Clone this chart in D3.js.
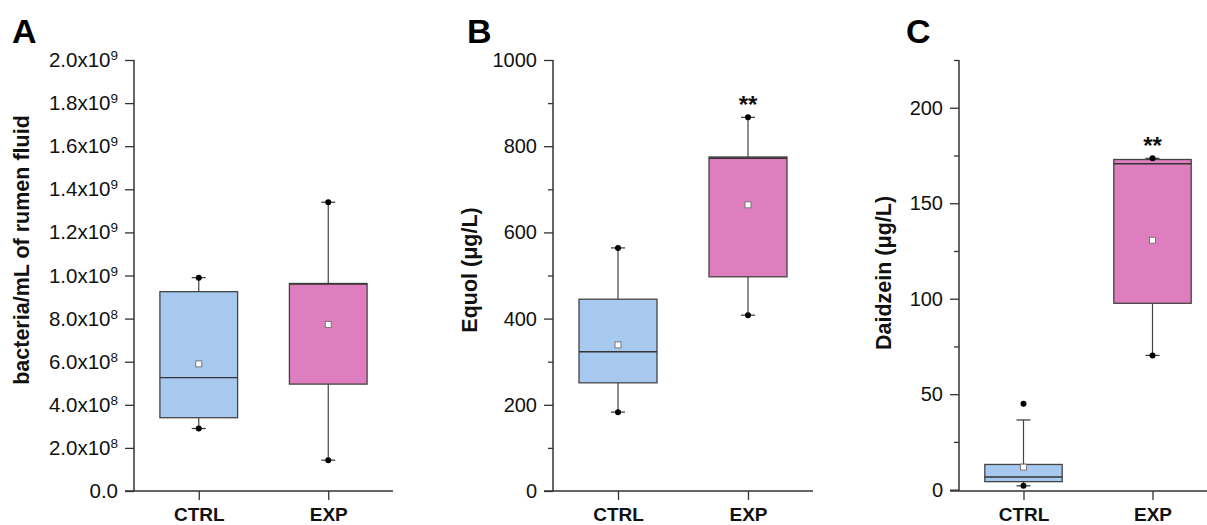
<!DOCTYPE html>
<html>
<head>
<meta charset="utf-8">
<script src="https://cdn.jsdelivr.net/npm/d3@7"></script>
<style>
  html, body { margin: 0; padding: 0; background: #fff; }
  svg { display: block; }
  text { font-family: "Liberation Sans", Arial, sans-serif; }
</style>
</head>
<body>
<svg id="chart" width="1207" height="525"></svg>
<script>
// ---------- DATA ----------
const categories = ["CTRL", "EXP"];
const panelLetters = ["A", "B", "C"];
const yTitles = ["bacteria/mL of rumen fluid", "Equol (\u03bcg/L)", "Daidzein (\u03bcg/L)"];
const sigLabels = ["", "**"];

// box statistics per group: whisker low/high, quartiles, median, mean, outliers
const bacteriaBoxes = [
  { low: 2.9e8,  q1: 3.4e8,  median: 5.26e8, mean: 5.9e8,  q3: 9.25e8, high: 9.9e8,  dotLow: 2.9e8,  dotHigh: 9.9e8,  outliers: [] },
  { low: 1.43e8, q1: 4.96e8, median: 9.6e8,  mean: 7.73e8, q3: 9.63e8, high: 1.34e9, dotLow: 1.43e8, dotHigh: 1.34e9, outliers: [] }
];
const equolBoxes = [
  { low: 183, q1: 251, median: 323, mean: 339, q3: 445, high: 564, dotLow: 183, dotHigh: 564, outliers: [] },
  { low: 408, q1: 497, median: 772, mean: 664, q3: 775, high: 867, dotLow: 408, dotHigh: 867, outliers: [] }
];
const daidzeinBoxes = [
  { low: 2,    q1: 4.2,  median: 6.6,   mean: 11.8,  q3: 13.2,  high: 36.5,  dotLow: 2,    dotHigh: null,  outliers: [45] },
  { low: 70.3, q1: 97.6, median: 170.7, mean: 130.6, q3: 172.9, high: 173.5, dotLow: 70.3, dotHigh: 173.5, outliers: [] }
];

const bacteriaTicks = [0, 2e8, 4e8, 6e8, 8e8, 1e9, 1.2e9, 1.4e9, 1.6e9, 1.8e9, 2e9];
const equolTicks = [0, 200, 400, 600, 800, 1000];
const equolMinor = [100, 300, 500, 700, 900];
const daidzeinTicks = [0, 50, 100, 150, 200];
const daidzeinMinor = [25, 75, 125, 175, 225];

// ---------- LAYOUT ----------
const svg = d3.select("#chart");
const colors = ["#A7C9EF", "#DF7EBE"];
const axisColor = "#333";

const panels = [
  { boxes: bacteriaBoxes, domain: [0, 2e9], ticks: bacteriaTicks, minor: [], axisX: 134, rightX: 393,
    letterX: 12, titleX: 22, titleY: 250, sci: true },
  { boxes: equolBoxes, domain: [0, 1000], ticks: equolTicks, minor: equolMinor, axisX: 553, rightX: 813,
    letterX: 467, titleX: 470, titleY: 270, sci: false },
  { boxes: daidzeinBoxes, domain: [-0.7, 225], ticks: daidzeinTicks, minor: daidzeinMinor, axisX: 959, rightX: 1217,
    letterX: 906, titleX: 884, titleY: 273, sci: false }
];
const topY = 60, bottomY = 491;

panels.forEach((p, pi) => {
  const g = svg.append("g");
  const y = d3.scaleLinear().domain(p.domain).range([bottomY, topY]);
  const x = d3.scalePoint().domain(categories).range([p.axisX, p.rightX]).padding(0.5);
  const boxW = (p.rightX - p.axisX) * 0.3;

  // minor ticks
  if (p.minor.length) {
    const minorAxis = d3.axisLeft(y).tickValues(p.minor).tickSize(5).tickSizeOuter(0).tickFormat("");
    const mg = g.append("g").attr("transform", `translate(${p.axisX},0)`).call(minorAxis);
    mg.select(".domain").remove();
    mg.selectAll("line").attr("stroke", axisColor).attr("stroke-width", 1.3);
  }

  // major y axis
  const yAxis = d3.axisLeft(y).tickValues(p.ticks).tickSize(9).tickSizeOuter(0).tickPadding(7)
    .tickFormat(d => p.sci ? "" : d3.format("d")(d));
  const yg = g.append("g").attr("transform", `translate(${p.axisX},0)`).call(yAxis);
  yg.select(".domain").attr("stroke", axisColor).attr("stroke-width", 1.5)
    .attr("d", `M0,${topY}V${bottomY}`);
  yg.selectAll("line").attr("stroke", axisColor).attr("stroke-width", 1.3);
  yg.selectAll("text").attr("font-size", p.sci ? 20.5 : 20).attr("fill", "#111")
    .attr("font-family", "'Liberation Sans', Arial, sans-serif");
  if (p.sci) {
    yg.selectAll("text").each(function(d) {
      const t = d3.select(this);
      t.text(null);
      if (d === 0) { t.text("0.0"); return; }
      const exp = Math.floor(Math.log10(d));
      const mant = d / Math.pow(10, exp);
      t.append("tspan").text(mant.toFixed(1) + "x10");
      t.append("tspan").text(exp).attr("font-size", 13.5).attr("dy", -7);
    });
  }

  // x axis
  const xAxis = d3.axisBottom(x).tickSize(9).tickSizeOuter(0).tickPadding(8);
  const xg = g.append("g").attr("transform", `translate(0,${bottomY})`).call(xAxis);
  xg.select(".domain").attr("stroke", axisColor).attr("stroke-width", 1.5)
    .attr("d", `M${p.axisX - 9},0H${p.rightX}`);
  xg.selectAll("line").attr("stroke", axisColor).attr("stroke-width", 1.3);
  xg.selectAll("text").attr("font-size", 19).attr("font-weight", "bold").attr("fill", "#111")
    .attr("font-family", "'Liberation Sans', Arial, sans-serif");

  // boxes
  p.boxes.forEach((b, i) => {
    const cx = x(categories[i]);
    const bg = g.append("g");
    // whiskers
    bg.append("line").attr("x1", cx).attr("x2", cx).attr("y1", y(b.q3)).attr("y2", y(b.high))
      .attr("stroke", "#444").attr("stroke-width", 1.2);
    bg.append("line").attr("x1", cx).attr("x2", cx).attr("y1", y(b.q1)).attr("y2", y(b.low))
      .attr("stroke", "#444").attr("stroke-width", 1.2);
    [b.high, b.low].forEach(v => {
      bg.append("line").attr("x1", cx - 7).attr("x2", cx + 7).attr("y1", y(v)).attr("y2", y(v))
        .attr("stroke", "#333").attr("stroke-width", 1.2);
    });
    // box
    bg.append("rect").attr("x", cx - boxW / 2).attr("width", boxW)
      .attr("y", y(b.q3)).attr("height", y(b.q1) - y(b.q3))
      .attr("fill", colors[i]).attr("stroke", "#444").attr("stroke-width", 1.3);
    // median
    bg.append("line").attr("x1", cx - boxW / 2).attr("x2", cx + boxW / 2)
      .attr("y1", y(b.median)).attr("y2", y(b.median))
      .attr("stroke", "#333").attr("stroke-width", 1.4);
    // min/max dots
    [b.dotLow, b.dotHigh].concat(b.outliers).filter(v => v !== null).forEach(v => {
      bg.append("circle").attr("cx", cx).attr("cy", y(v)).attr("r", 3).attr("fill", "#000");
    });
    // mean
    bg.append("rect").attr("x", cx - 3).attr("y", y(b.mean) - 3).attr("width", 6).attr("height", 6)
      .attr("fill", "#fff").attr("stroke", "#777").attr("stroke-width", 1);
    // significance
    if (pi > 0 && sigLabels[i]) {
      const topVal = b.dotHigh !== null ? b.dotHigh : b.high;
      bg.append("text").attr("x", cx).attr("y", y(topVal) - 4)
        .attr("text-anchor", "middle").attr("font-size", 24).attr("font-weight", "bold")
        .attr("fill", "#111").text(sigLabels[i]);
    }
  });

  // y title
  g.append("text").attr("transform", `translate(${p.titleX},${p.titleY}) rotate(-90)`)
    .attr("text-anchor", "middle").attr("dominant-baseline", "central")
    .attr("font-size", 21.5).attr("font-weight", "bold").attr("fill", "#111").text(yTitles[pi]);

  // panel letter
  g.append("text").attr("x", p.letterX).attr("y", 43).attr("font-size", 34).attr("font-weight", "bold")
    .attr("fill", "#000").text(panelLetters[pi]);
});
</script>
</body>
</html>
